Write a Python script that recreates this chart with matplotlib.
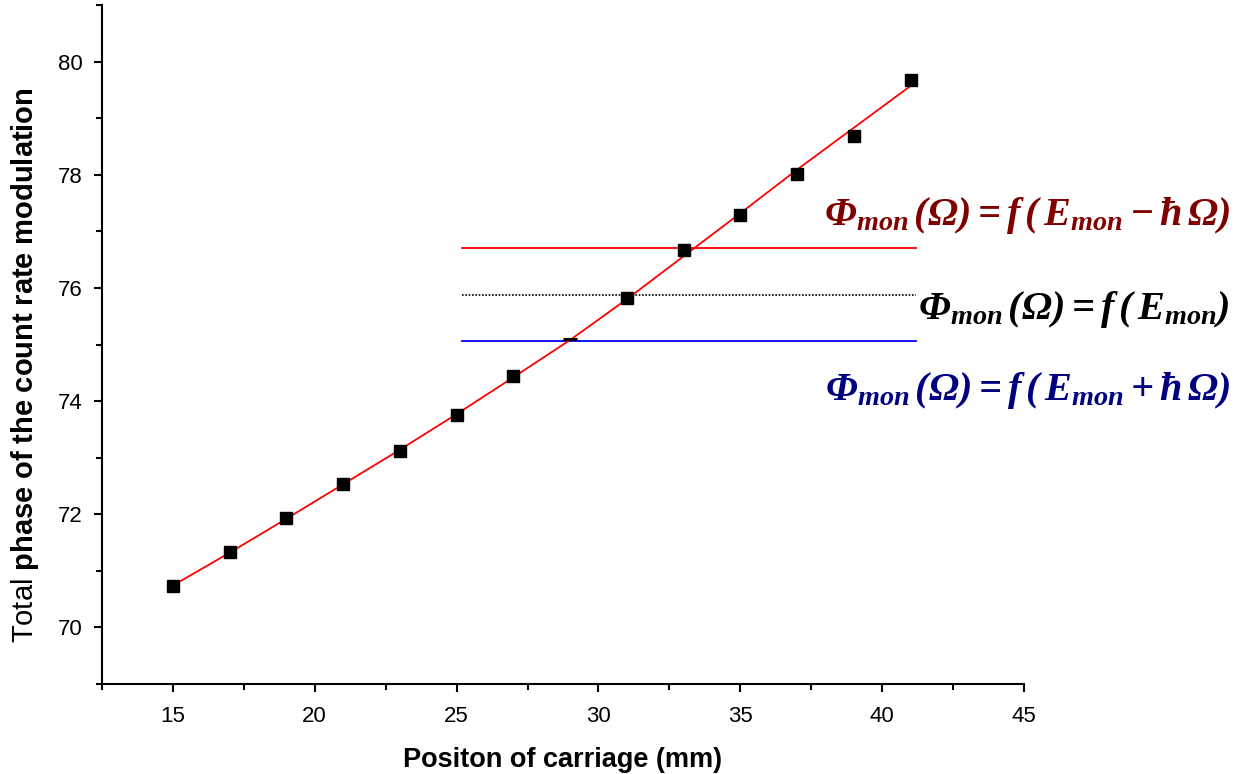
import matplotlib
matplotlib.use("Agg")
import matplotlib.pyplot as plt
from matplotlib.ticker import MultipleLocator

# ── 数据 ──────────────────────────────────────────────
pos_mm = [15, 17, 19, 21, 23, 25, 27, 29, 31, 33, 35, 37, 39, 41]
phase = [70.73, 71.33, 71.93, 72.54, 73.12, 73.76, 74.45, 75.09,
         75.82, 76.67, 77.29, 78.01, 78.69, 79.68]
fit_phase = [70.74, 71.32, 71.92, 72.53, 73.14, 73.77, 74.42, 75.08,
             75.80, 76.56, 77.32, 78.09, 78.83, 79.57]
# 参考水平线 (x 范围, y 值)
ref_x = [25.2, 41.2]
ref_minus = 76.70
ref_zero = 75.87
ref_plus = 75.07

plt.rcParams.update({
    "font.family": ["Liberation Sans", "DejaVu Sans"],
    "mathtext.fontset": "custom",
    "mathtext.rm": "Liberation Serif:bold:italic",
    "mathtext.it": "Liberation Serif:bold:italic",
    "mathtext.bf": "Liberation Sans:bold",
})

fig = plt.figure(figsize=(12.45, 7.74), dpi=100)
ax = fig.add_axes([0.0819, 0.1163, 0.7406, 0.8772])

ax.plot(pos_mm, fit_phase, color="red", lw=1.3, zorder=3)
ax.plot(ref_x, [ref_minus] * 2, color="red", lw=1.3, zorder=2)
ax.plot(ref_x, [ref_zero] * 2, color="black", lw=1.2, ls=(0, (1, 1)), zorder=2)
ax.plot(ref_x, [ref_plus] * 2, color="blue", lw=1.3, zorder=2)

# 29 mm 的点在原图中只剩一道横线
mask = [p != 29 for p in pos_mm]
ax.plot([p for p, m in zip(pos_mm, mask) if m],
        [v for v, m in zip(phase, mask) if m],
        ls="none", marker="s", ms=8.5, color="black", zorder=4)
ax.plot([29], [phase[pos_mm.index(29)]], ls="none", marker="_",
        ms=10, mew=2.2, color="black", zorder=4)

ax.set_xlim(12.5, 45)
ax.set_ylim(69, 81)
ax.xaxis.set_major_locator(MultipleLocator(5))
ax.xaxis.set_minor_locator(MultipleLocator(2.5))
ax.yaxis.set_major_locator(MultipleLocator(2))
ax.yaxis.set_minor_locator(MultipleLocator(1))
ax.spines["top"].set_visible(False)
ax.spines["right"].set_visible(False)
for s in ("left", "bottom"):
    ax.spines[s].set_linewidth(1.5)
ax.tick_params(which="major", direction="out", length=6, width=1.5,
               labelsize=16, pad=8)
ax.tick_params(which="minor", direction="out", length=4, width=1.5)
ax.tick_params(axis="x", pad=10)

ax.set_xlabel("Positon of carriage (mm)", fontsize=19.5, fontweight="bold",
              labelpad=14)
ax.set_ylabel(r"Total $\mathbf{phase\ of\ the\ count\ rate\ modulation}$",
              fontsize=21)
ax.yaxis.set_label_coords(-0.066, 0.47)

# ── 公式标注 ──────────────────────────────────────────
eq_size = 29
fig.text(0.988, 0.722,
         r"$\Phi_{mon}\,(\Omega)=f\,(\,E_{mon}-ħ\,\Omega)$",
         color="#800000", fontsize=eq_size, ha="right", va="center")
fig.text(0.988, 0.60,
         r"$\Phi_{mon}\,(\Omega)=f\,(\,E_{mon})$",
         color="black", fontsize=eq_size, ha="right", va="center")
fig.text(0.988, 0.495,
         r"$\Phi_{mon}\,(\Omega)=f\,(\,E_{mon}+ħ\,\Omega)$",
         color="#000080", fontsize=eq_size, ha="right", va="center")

fig.savefig("out.png", dpi=100)
plt.close(fig)
